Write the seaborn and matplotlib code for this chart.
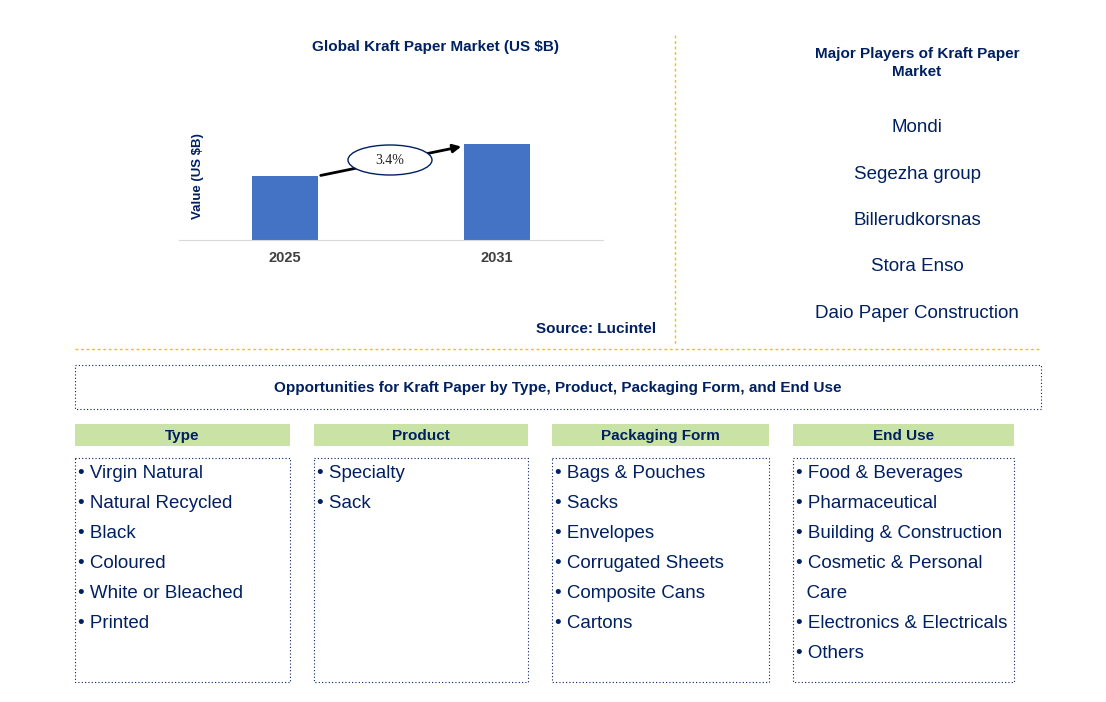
import matplotlib
matplotlib.use("Agg")
import matplotlib.pyplot as plt
import seaborn as sns
import pandas as pd
from matplotlib.patches import Rectangle, Ellipse

plt.rcParams["font.family"] = "Liberation Sans"

years = ["2025", "2031"]
values = [64, 96]
cagr = "3.4%"
players = ["Mondi", "Segezha group", "Billerudkorsnas", "Stora Enso", "Daio Paper Construction"]
headers = ["Type", "Product", "Packaging Form", "End Use"]
items = [
    ["Virgin Natural", "Natural Recycled", "Black", "Coloured", "White or Bleached", "Printed"],
    ["Specialty", "Sack"],
    ["Bags & Pouches", "Sacks", "Envelopes", "Corrugated Sheets", "Composite Cans", "Cartons"],
    ["Food & Beverages", "Pharmaceutical", "Building & Construction", "Cosmetic & Personal",
     "+Care", "Electronics & Electricals", "Others"],
]

W, H = 1106, 702
NAVY = "#002060"
fig = plt.figure(figsize=(W / 100, H / 100), dpi=100)

def rect(x0, y0, x1, y1):
    return [x0 / W, 1 - y1 / H, (x1 - x0) / W, (y1 - y0) / H]

ax = fig.add_axes(rect(179, 100, 603, 240))
df = pd.DataFrame({"year": years, "value": values})
sns.barplot(data=df, x="year", y="value", color="#4472C4", width=0.31, saturation=1, ax=ax)
ax.set_xlim(-0.5, 1.5)
ax.set_ylim(0, 140)
ax.set_yticks([])
ax.set_xlabel("")
ax.set_ylabel("")
for s in ["top", "right", "left"]:
    ax.spines[s].set_visible(False)
ax.spines["bottom"].set_color("#D9D9D9")
ax.tick_params(axis="x", length=0, pad=8)
for t in ax.get_xticklabels():
    t.set_fontsize(10.5); t.set_fontweight("bold"); t.set_color("#404040")
ax.patch.set_alpha(0)

o = fig.add_axes([0, 0, 1, 1], zorder=5)
o.set_xlim(0, W); o.set_ylim(H, 0); o.axis("off"); o.patch.set_alpha(0)

o.text(198, 176, "Value (US $B)", rotation=90, ha="center", va="center", fontsize=9.5, fontweight="bold", color=NAVY)
o.annotate("", xy=(464, 146), xytext=(318, 176), zorder=2,
           arrowprops=dict(arrowstyle="-|>", color="black", lw=2, mutation_scale=12))
o.add_patch(Ellipse((390, 160), 84, 30, facecolor="white", edgecolor=NAVY, lw=1, zorder=3))
o.text(390, 160, cagr, ha="center", va="center", fontsize=10, family="Liberation Serif", color="#1F1F1F", zorder=4)

o.text(435, 47, "Global Kraft Paper Market (US $B)", ha="center", va="center", fontsize=11, fontweight="bold", color=NAVY)
o.text(656, 329, "Source: Lucintel", ha="right", va="center", fontsize=11, fontweight="bold", color=NAVY)

o.plot([675, 675], [35, 345], color="#F2C200", lw=1, ls=(0, (2, 2)))
o.plot([75, 1040], [349, 349], color="#F2C200", lw=1, ls=(0, (2, 2)))

o.text(917, 63, "Major Players of Kraft Paper\nMarket", ha="center", va="center", fontsize=11, fontweight="bold", color=NAVY, linespacing=1.4)
for i, p in enumerate(players):
    o.text(917, 128 + i * 46.3, p, ha="center", va="center", fontsize=13.5, color=NAVY)

o.add_patch(Rectangle((75, 365), 966, 44, fill=False, edgecolor=NAVY, lw=0.8, ls=(0, (1, 2))))
o.text(558, 388, "Opportunities for Kraft Paper by Type, Product, Packaging Form, and End Use",
       ha="center", va="center", fontsize=11, fontweight="bold", color=NAVY)

cols = [(75, 290), (314, 528), (552, 769), (793, 1014)]
for (x0, x1), h, its in zip(cols, headers, items):
    o.add_patch(Rectangle((x0, 424), x1 - x0, 22, facecolor="#C9E3A6", edgecolor="none"))
    o.text((x0 + x1) / 2, 436, h, ha="center", va="center", fontsize=11, fontweight="bold", color=NAVY)
    o.add_patch(Rectangle((x0, 458), x1 - x0, 224, fill=False, edgecolor=NAVY, lw=0.8, ls=(0, (1, 2))))
    for k, it in enumerate(its):
        label = "  " + it[1:] if it.startswith("+") else "• " + it
        o.text(x0 + 3, 474 + 30 * k, label, ha="left", va="center", fontsize=13.5, color=NAVY)
fig.savefig("out.png", dpi=100)
